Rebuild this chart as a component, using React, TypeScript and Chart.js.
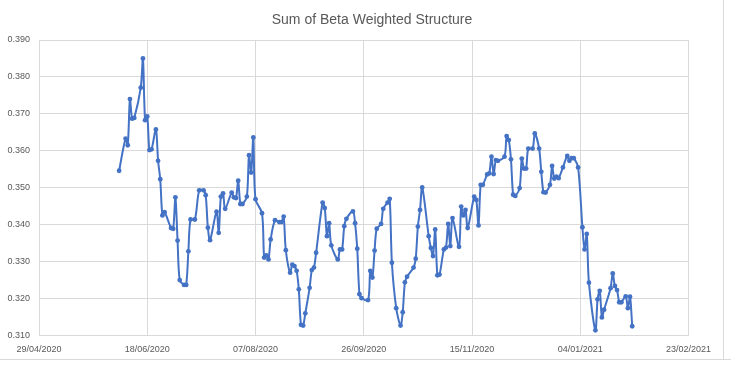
import React, { useEffect, useRef } from "react";
import { Chart, registerables } from "chart.js";

Chart.register(...registerables);

const chartTitle = "Sum of Beta Weighted Structure";
const startDate = "2020-04-29";
const xTickStepDays = 50;
const xRangeDays = 300;
const yTicks = [0.31, 0.32, 0.33, 0.34, 0.35, 0.36, 0.37, 0.38, 0.39];

const dates = [
  "2020-06-05", "2020-06-08", "2020-06-09", "2020-06-10", "2020-06-11", "2020-06-12", "2020-06-15", "2020-06-16", "2020-06-17", "2020-06-18",
  "2020-06-19", "2020-06-20", "2020-06-22", "2020-06-23", "2020-06-24", "2020-06-25", "2020-06-26", "2020-06-29", "2020-06-30",
  "2020-07-01", "2020-07-02", "2020-07-03", "2020-07-05", "2020-07-06", "2020-07-07", "2020-07-08", "2020-07-10", "2020-07-12", "2020-07-14",
  "2020-07-15", "2020-07-16", "2020-07-17", "2020-07-20", "2020-07-21", "2020-07-22", "2020-07-23", "2020-07-24", "2020-07-27", "2020-07-28",
  "2020-07-29", "2020-07-30", "2020-07-31",
  "2020-08-01", "2020-08-03", "2020-08-04", "2020-08-05", "2020-08-06", "2020-08-07", "2020-08-10", "2020-08-11", "2020-08-12", "2020-08-13",
  "2020-08-14", "2020-08-16", "2020-08-18", "2020-08-19", "2020-08-20", "2020-08-21", "2020-08-23", "2020-08-24", "2020-08-25", "2020-08-26",
  "2020-08-27", "2020-08-28", "2020-08-29", "2020-08-30",
  "2020-09-01", "2020-09-02", "2020-09-03", "2020-09-04", "2020-09-07", "2020-09-08", "2020-09-09", "2020-09-10", "2020-09-11", "2020-09-14",
  "2020-09-15", "2020-09-16", "2020-09-17", "2020-09-18", "2020-09-21", "2020-09-22", "2020-09-23", "2020-09-24", "2020-09-25", "2020-09-28",
  "2020-09-29", "2020-09-30",
  "2020-10-01", "2020-10-02", "2020-10-04", "2020-10-05", "2020-10-07", "2020-10-08", "2020-10-09", "2020-10-11", "2020-10-13", "2020-10-14",
  "2020-10-15", "2020-10-16", "2020-10-19", "2020-10-20", "2020-10-21", "2020-10-22", "2020-10-23", "2020-10-26", "2020-10-27", "2020-10-28",
  "2020-10-29", "2020-10-30", "2020-10-31",
  "2020-11-02", "2020-11-03", "2020-11-04", "2020-11-05", "2020-11-06", "2020-11-09", "2020-11-10", "2020-11-11", "2020-11-12", "2020-11-13",
  "2020-11-16", "2020-11-17", "2020-11-18", "2020-11-19", "2020-11-20", "2020-11-22", "2020-11-23", "2020-11-24", "2020-11-25", "2020-11-26",
  "2020-11-27", "2020-11-30",
  "2020-12-01", "2020-12-02", "2020-12-03", "2020-12-04", "2020-12-05", "2020-12-07", "2020-12-08", "2020-12-09", "2020-12-10", "2020-12-11",
  "2020-12-13", "2020-12-14", "2020-12-16", "2020-12-17", "2020-12-18", "2020-12-19", "2020-12-21", "2020-12-22", "2020-12-23", "2020-12-24",
  "2020-12-25", "2020-12-27", "2020-12-29", "2020-12-30", "2020-12-31",
  "2021-01-01", "2021-01-03", "2021-01-05", "2021-01-06", "2021-01-07", "2021-01-08", "2021-01-11", "2021-01-12", "2021-01-13", "2021-01-14",
  "2021-01-15", "2021-01-18", "2021-01-19", "2021-01-20", "2021-01-21", "2021-01-22", "2021-01-23", "2021-01-25", "2021-01-26", "2021-01-27",
  "2021-01-28",
];

const values = [
  0.3546, 0.3633, 0.3615, 0.374, 0.3687, 0.3689, 0.3771, 0.385, 0.3683, 0.3693,
  0.3602, 0.3604, 0.3658, 0.3573, 0.3523, 0.3425, 0.3434, 0.3391, 0.3389,
  0.3474, 0.3357, 0.325, 0.3237, 0.3237, 0.3328, 0.3414, 0.3414, 0.3493, 0.3493,
  0.348, 0.3392, 0.3358, 0.3435, 0.3378, 0.3476, 0.3485, 0.3443, 0.3487, 0.3474,
  0.3472, 0.3519, 0.3456,
  0.3456, 0.3476, 0.3588, 0.3541, 0.3636, 0.3469, 0.3431, 0.3311, 0.3317, 0.3306,
  0.336, 0.3412, 0.3407, 0.3407, 0.3422, 0.3331, 0.327, 0.3292, 0.3288, 0.3275,
  0.3225, 0.3129, 0.3127, 0.316,
  0.3229, 0.3277, 0.3284, 0.3324, 0.346, 0.3445, 0.3369, 0.3404, 0.3344, 0.3306,
  0.3333, 0.3333, 0.3396, 0.3416, 0.3436, 0.3404, 0.3335, 0.3212, 0.3201, 0.3196,
  0.3275, 0.3257,
  0.333, 0.3389, 0.3402, 0.3443, 0.346, 0.347, 0.3297, 0.3174, 0.3127, 0.3163,
  0.3244, 0.3259, 0.3284, 0.3308, 0.3395, 0.344, 0.3501, 0.3369, 0.3337, 0.3315,
  0.3387, 0.3263, 0.3265,
  0.3333, 0.3338, 0.3402, 0.3342, 0.3418, 0.334, 0.3449, 0.3425, 0.344, 0.3391,
  0.3476, 0.3467, 0.3398, 0.3508, 0.3508, 0.3536, 0.3539, 0.3584, 0.3537, 0.3575,
  0.3573, 0.3584,
  0.364, 0.3629, 0.3577, 0.3481, 0.3478, 0.3499, 0.3579, 0.3552, 0.3552, 0.3606,
  0.3606, 0.3647, 0.3606, 0.3543, 0.3488, 0.3487, 0.3508, 0.3559, 0.3525, 0.353,
  0.3526, 0.3555, 0.3586, 0.3573, 0.358,
  0.358, 0.3555, 0.3393, 0.3333, 0.3375, 0.3243, 0.3114, 0.3198, 0.3221, 0.3149,
  0.317, 0.3228, 0.3268, 0.3234, 0.3223, 0.319, 0.319, 0.3206, 0.3174, 0.3205,
  0.3125,
];

const DAY = 86400000;
const toUTC = (s: string) => {
  const [y, m, d] = s.split("-").map(Number);
  return Date.UTC(y, m - 1, d);
};
const startMs = toUTC(startDate);
const pad2 = (n: number) => (n < 10 ? "0" + n : "" + n);
const fmtDay = (dayNum: number) => {
  const dt = new Date(startMs + Math.round(dayNum) * DAY);
  return pad2(dt.getUTCDate()) + "/" + pad2(dt.getUTCMonth() + 1) + "/" + dt.getUTCFullYear();
};

const TEXT = "#595959";
const GRID = "#D9D9D9";
const LINE = "#4472C4";
const FONT = "'Liberation Sans', Arial, sans-serif";

export default function App() {
  const ref = useRef<HTMLCanvasElement | null>(null);

  useEffect(() => {
    if (!ref.current) return;
    const points = dates.map((d, i) => ({ x: (toUTC(d) - startMs) / DAY, y: values[i] }));

    const titlePlugin = {
      id: "excelTitle",
      afterDraw(chart: any) {
        const ctx = chart.ctx;
        ctx.save();
        ctx.fillStyle = TEXT;
        ctx.font = "14px " + FONT;
        ctx.textAlign = "center";
        ctx.textBaseline = "middle";
        ctx.fillText(chartTitle, 372, 20);
        ctx.restore();
      },
    };

    const chart = new Chart(ref.current, {
      type: "line",
      data: {
        datasets: [
          {
            label: chartTitle,
            data: points,
            borderColor: LINE,
            backgroundColor: LINE,
            borderWidth: 2,
            pointRadius: 2.4,
            pointBorderWidth: 0,
            pointBackgroundColor: LINE,
            tension: 0.3,
            fill: false,
          },
        ],
      },
      options: {
        animation: false,
        responsive: false,
        maintainAspectRatio: false,
        layout: { padding: { top: 40, right: 42.5, bottom: 0, left: 0 } },
        plugins: {
          legend: { display: false },
          title: { display: false },
          tooltip: { enabled: false },
        },
        scales: {
          x: {
            type: "linear",
            min: 0,
            max: xRangeDays,
            afterBuildTicks: (scale: any) => {
              const t = [];
              for (let v = 0; v <= xRangeDays; v += xTickStepDays) t.push({ value: v });
              scale.ticks = t;
            },
            afterFit: (scale: any) => {
              scale.height = 30.5;
            },
            grid: { color: GRID, lineWidth: 1, drawTicks: false },
            border: { color: GRID, width: 1 },
            ticks: {
              color: TEXT,
              font: { family: FONT, size: 9 },
              padding: 9,
              maxRotation: 0,
              autoSkip: false,
              callback: (v: any) => fmtDay(Number(v)),
            },
          },
          y: {
            type: "linear",
            min: yTicks[0],
            max: yTicks[yTicks.length - 1],
            afterBuildTicks: (scale: any) => {
              scale.ticks = yTicks.map((v) => ({ value: v }));
            },
            afterFit: (scale: any) => {
              scale.width = 39;
            },
            grid: { color: GRID, lineWidth: 1, drawTicks: false },
            border: { display: false },
            ticks: {
              color: TEXT,
              font: { family: FONT, size: 9 },
              padding: 9,
              callback: (v: any) => Number(v).toFixed(3),
            },
          },
        },
      },
      plugins: [titlePlugin],
    });
    return () => chart.destroy();
  }, []);

  return (
    <div style={{ position: "fixed", left: 0, top: 0, width: 731, height: 366, background: "#fff" }}>
      <canvas ref={ref} width={731} height={366} style={{ display: "block", width: 731, height: 366 }} />
      <div style={{ position: "absolute", left: 723, top: 0, width: 1, height: 359, background: GRID }} />
      <div style={{ position: "absolute", left: 0, top: 359, width: 731, height: 1, background: GRID }} />
    </div>
  );
}
